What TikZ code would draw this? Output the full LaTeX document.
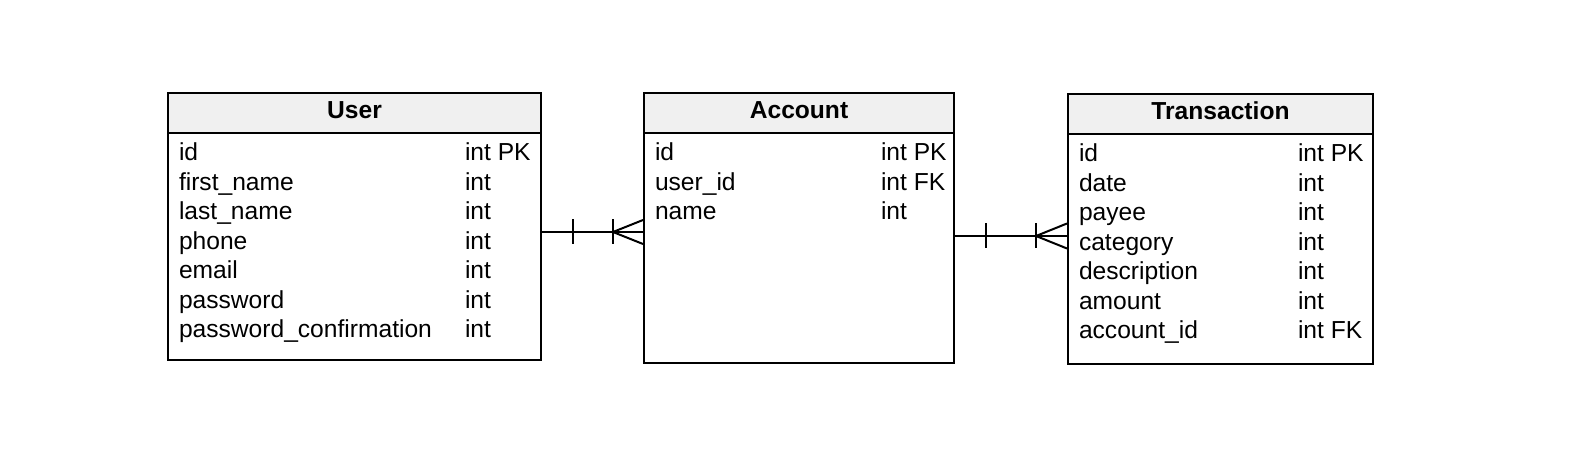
\documentclass[tikz,border=0pt]{standalone}
\usepackage{fontspec}
\setmainfont{Liberation Sans}
\usetikzlibrary{calc}
\definecolor{hdrgray}{HTML}{F0F0F0}
\begin{document}
\begin{tikzpicture}[x=0.5pt,y=-0.5pt,line width=1pt,
  tbl/.style={draw=black,fill=white,rectangle,inner sep=0pt,anchor=north west},
  hdr/.style={draw=black,fill=hdrgray,rectangle,inner sep=0pt,anchor=north west},
  ttl/.style={inner sep=0pt,anchor=base,font=\fontsize{12.3}{14}\selectfont\bfseries},
  row/.style={inner sep=0pt,anchor=base west,font=\fontsize{12.3}{14}\selectfont},
  rel/.style={draw=black,line width=1pt}]
\useasboundingbox (0,0) rectangle (1582,474);

% User table
\node[tbl,minimum width=186.5pt,minimum height=133.5pt] (user) at (167,92) {};
\node[hdr,minimum width=186.5pt,minimum height=20pt] (userh) at (167,92) {};
\node[ttl] (usert) at (userh.center |- 0,119) {User};
\foreach \n/\t [count=\i from 0] in {id/int PK,first\_name/int,last\_name/int,phone/int,email/int,password/int,password\_confirmation/int}{
  \node[row] (un\i) at (178,{161+29.5*\i}) {\n};
  \node[row] (ut\i) at (464,{161+29.5*\i}) {\t};
}

% Account table
\node[tbl,minimum width=155pt,minimum height=135pt] (account) at (643,92) {};
\node[hdr,minimum width=155pt,minimum height=20pt] (accounth) at (643,92) {};
\node[ttl] (accountt) at (accounth.center |- 0,119) {Account};
\foreach \n/\t [count=\i from 0] in {id/int PK,user\_id/int FK,name/int}{
  \node[row] (an\i) at (654,{161+29.5*\i}) {\n};
  \node[row] (at\i) at (880,{161+29.5*\i}) {\t};
}

% Transaction table
\node[tbl,minimum width=152.5pt,minimum height=135pt] (trans) at (1067,93) {};
\node[hdr,minimum width=152.5pt,minimum height=20pt] (transh) at (1067,93) {};
\node[ttl] (transt) at (transh.center |- 0,120) {Transaction};
\foreach \n/\t [count=\i from 0] in {id/int PK,date/int,payee/int,category/int,description/int,amount/int,account\_id/int FK}{
  \node[row] (tn\i) at (1078,{162+29.5*\i}) {\n};
  \node[row] (tt\i) at (1297,{162+29.5*\i}) {\t};
}

% Relation User -> Account
\coordinate (c1) at (0,232);
\draw[rel] (user.east |- c1) -- (account.west |- c1);
\draw[rel] ($(user.east |- c1)+(31,-12.5)$) -- ($(user.east |- c1)+(31,12.5)$);
\draw[rel] ($(account.west |- c1)+(-30,-12.5)$) -- ($(account.west |- c1)+(-30,12.5)$);
\draw[rel] ($(account.west |- c1)+(0,-12)$) -- ($(account.west |- c1)+(-30,0)$) -- ($(account.west |- c1)+(0,12)$);

% Relation Account -> Transaction
\coordinate (c2) at (0,236);
\draw[rel] (account.east |- c2) -- (trans.west |- c2);
\draw[rel] ($(account.east |- c2)+(31,-12.5)$) -- ($(account.east |- c2)+(31,12.5)$);
\draw[rel] ($(trans.west |- c2)+(-31,-12.5)$) -- ($(trans.west |- c2)+(-31,12.5)$);
\draw[rel] ($(trans.west |- c2)+(0,-12.5)$) -- ($(trans.west |- c2)+(-31,0)$) -- ($(trans.west |- c2)+(0,12.5)$);
\end{tikzpicture}
\end{document}
